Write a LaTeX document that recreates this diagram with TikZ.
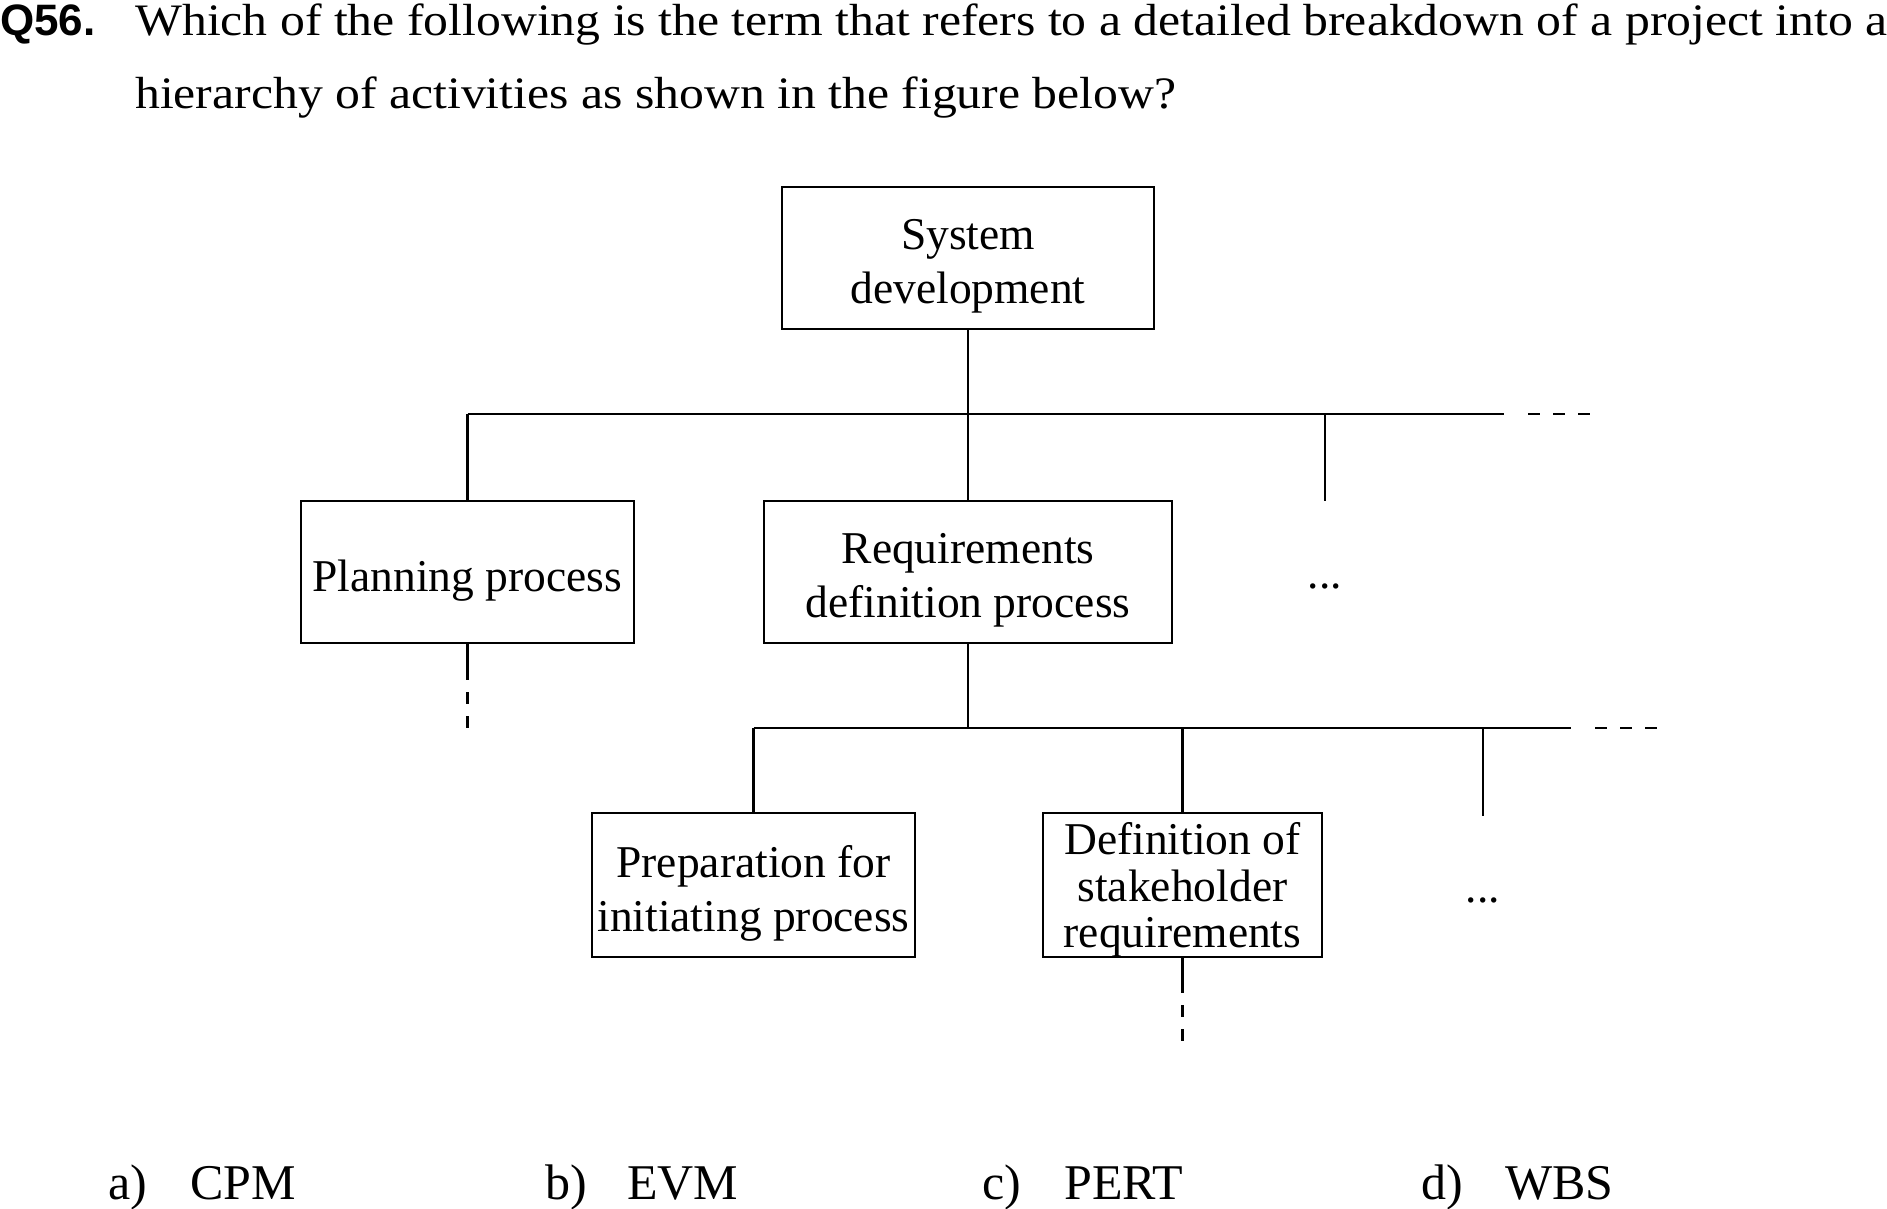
\documentclass[tikz,border=0pt]{standalone}
\usepackage{fontspec}
\setmainfont{Liberation Serif}
\newfontfamily\qsans{Liberation Sans}
\newfontfamily\qwide[FakeStretch=1.105]{Liberation Serif}
\newcommand\bigfnt{\fontsize{45.5pt}{54pt}\selectfont}
\begin{document}
\begin{tikzpicture}[x=1pt,y=-1pt,
  wbox/.style={draw, line width=2.5pt, inner sep=0pt},
  btxt/.style={inner sep=0pt, align=center, font=\bigfnt},
  conn/.style={line width=2.5pt},
  dashend/.style={line width=2.5pt, dash pattern=on 12pt off 12pt, dash phase=12pt},
  qtxt/.style={inner sep=0pt, anchor=base west, font={\qwide\fontsize{45pt}{54pt}\selectfont}},
  atxt/.style={inner sep=0pt, anchor=base west, font={\fontsize{50pt}{60pt}\selectfont}}]
\useasboundingbox (0,0) rectangle (1887,1209);
% question
\node[inner sep=0pt, anchor=base west, font={\qsans\bfseries\fontsize{44pt}{54pt}\selectfont}] (qn) at (0,36) {Q56.};
\node[qtxt] (q1) at (135,36) {Which of the following is the term that refers to a detailed breakdown of a project into a};
\node[qtxt] (q2) at (135,109) {hierarchy of activities as shown in the figure below?};
% boxes
\node[wbox, minimum width=372pt, minimum height=142pt] (top) at (968,258) {};
\node[btxt] (topT) at (968,266) {System\\development};
\node[wbox, minimum width=333pt, minimum height=142pt] (plan) at (467.5,572) {};
\node[btxt] (planT) at (467.5,581) {Planning process};
\node[wbox, minimum width=408pt, minimum height=142pt] (req) at (968,572) {};
\node[btxt] (reqT) at (968,580) {Requirements\\definition process};
\node[wbox, minimum width=323pt, minimum height=144pt] (prep) at (753.5,885) {};
\node[btxt] (prepT) at (753.5,893) {Preparation for\\initiating process};
\node[wbox, minimum width=279pt, minimum height=144pt] (def) at (1182.5,885) {};
\node[btxt, font={\fontsize{45.5pt}{46.5pt}\selectfont}] (defT) at (1182.5,890) {Definition of\\stakeholder\\requirements};
\node[inner sep=0pt, anchor=base, font=\bigfnt] (dots1) at (1325,588) {...};
\node[inner sep=0pt, anchor=base, font=\bigfnt] (dots2) at (1483,902) {...};
% level 1 bus
\coordinate (bus1) at (968,414);
\coordinate (bus1end) at (1504,414);
\coordinate (bus1dash) at (1528,414);
\coordinate (bus1tip) at (1592,414);
\coordinate (drop1) at (1325,501);
\draw[conn] (top) -- (req);
\draw[conn] (plan.north |- bus1) -- (bus1end);
\draw[conn] (plan.north |- bus1) -- (plan.north);
\draw[conn] (drop1 |- bus1) -- (drop1);
\draw[line width=2.5pt, dash pattern=on 12pt off 13pt] (bus1dash) -- (bus1tip);
% planning continuation
\coordinate (pl1) at (467.5,680);
\coordinate (pl2) at (467.5,728);
\draw[conn] (plan) -- (pl1);
\draw[dashend] (pl1) -- (pl2);
% level 2 bus
\coordinate (bus2) at (968,728);
\coordinate (bus2end) at (1571,728);
\coordinate (bus2dash) at (1595,728);
\coordinate (bus2tip) at (1659,728);
\coordinate (drop2) at (1483,816);
\draw[conn] (req) -- (bus2);
\draw[conn] (prep.north |- bus2) -- (bus2end);
\draw[conn] (prep.north |- bus2) -- (prep.north);
\draw[conn] (def.north |- bus2) -- (def.north);
\draw[conn] (drop2 |- bus2) -- (drop2);
\draw[line width=2.5pt, dash pattern=on 12pt off 13pt] (bus2dash) -- (bus2tip);
% definition continuation
\coordinate (df1) at (1182.5,993);
\coordinate (df2) at (1182.5,1042);
\draw[conn] (def) -- (df1);
\draw[dashend] (df1) -- (df2);
% answers
\node[atxt] (aa) at (108,1199) {a)};
\node[atxt] (at) at (190,1199) {CPM};
\node[atxt] (ba) at (545,1199) {b)};
\node[atxt] (bt) at (627,1199) {EVM};
\node[atxt] (ca) at (982,1199) {c)};
\node[atxt] (ct) at (1064,1199) {PERT};
\node[atxt] (da) at (1421,1199) {d)};
\node[atxt] (dt) at (1505,1199) {WBS};
\end{tikzpicture}
\end{document}
